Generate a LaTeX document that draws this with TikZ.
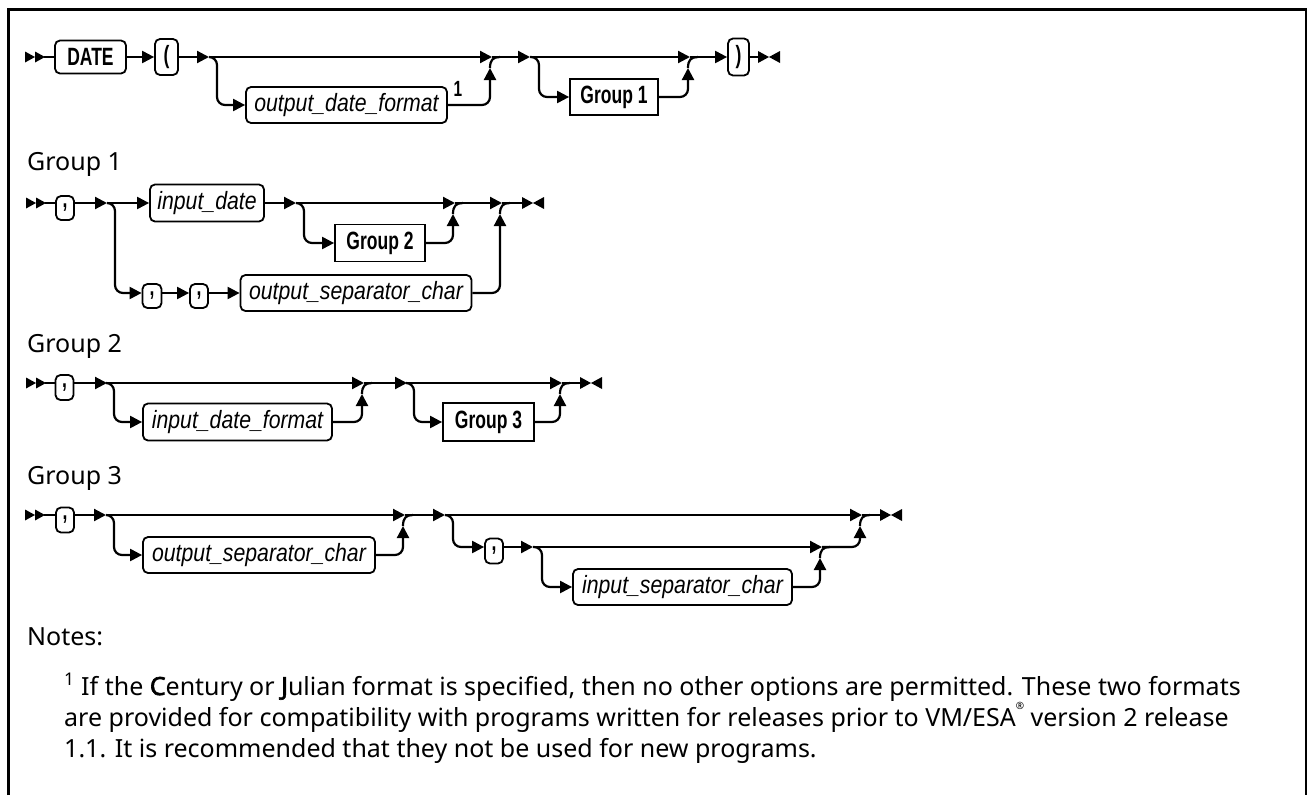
\documentclass[tikz,border=0pt]{standalone}
\usepackage{fontspec}
\setmainfont{Noto Sans}[AutoFakeBold=2.5]
\newfontfamily\railfont[FakeStretch=0.70]{Liberation Sans}
\newfontfamily\railitfont[FakeStretch=0.85]{Liberation Sans}
\usetikzlibrary{arrows.meta}
\tikzset{
  rail/.style={line width=2.2pt},
  arw/.style={-{Triangle[length=12pt,width=12pt]}},
  kbox/.style={draw, line width=1.8pt, rounded corners=5pt, inner sep=0pt,
    font=\railfont\bfseries\fontsize{25}{25}\selectfont},
  vbox/.style={draw, line width=1.8pt, rounded corners=5pt, inner sep=0pt,
    font=\railitfont\itshape\fontsize{25}{25}\selectfont},
  gbox/.style={draw, line width=1.8pt, inner sep=0pt,
    font=\railfont\bfseries\fontsize{25}{25}\selectfont},
  lbl/.style={anchor=base west, inner sep=0pt, font=\fontsize{25}{30}\selectfont},
  railstart/.pic={\fill (0,-5.5) -- (10,0) -- (0,5.5) -- cycle; \fill (10,-5.5) -- (20,0) -- (10,5.5) -- cycle;},
  railend/.pic={\fill (0,-6) -- (11,0) -- (0,6) -- cycle; \fill (22,-6) -- (11,0) -- (22,6) -- cycle;}
}
\begin{document}
\begin{tikzpicture}[x=1pt,y=-1pt]
\useasboundingbox (0,0) rectangle (1308,795);
\draw[line width=2.5pt] (8.5,795) -- (8.5,9.5) -- (1306,9.5) -- (1306,795);

% ---------- main row ----------
\pic at (25,57) {railstart};
\coordinate (r1s) at (44,57);
\node[kbox, minimum width=71pt, minimum height=33pt] (date) at (90.5,57) {DATE};
\draw[rail] (r1s) -- (date.west);
\node[kbox, minimum width=23pt, minimum height=36pt] (lp) at (166.5,57) {(};
\draw[rail,arw] (date.east) -- (lp.west);
\coordinate (b1) at (209,57);
\draw[rail,arw] (lp.east) -- (b1);
\node[vbox, minimum width=201pt, minimum height=36pt] (odf) at (346.5,105) {output\_date\_format};
\node[inner sep=0pt, font=\railfont\bfseries\fontsize{22}{22}\selectfont] (fn1) at (458,89) {1};
\coordinate (j1) at (492,57);
\draw[rail,arw] (b1) -- (j1);
\draw[rail,arw,rounded corners=8pt] (b1) -- (217,57) -- (217,105) -- (odf.west);
\draw[rail,arw,rounded corners=8pt] (odf.east) -- (490,105) -- (490,68);
\draw[rail] (490,68) .. controls (490,60) and (493,57) .. (500,57);
\coordinate (b2) at (530,57);
\draw[rail,arw] (j1) -- (b2);
\coordinate (j2) at (690,57);
\draw[rail,arw] (b2) -- (j2);
\node[gbox, minimum width=88pt, minimum height=36pt] (g1) at (614,97) {Group 1};
\draw[rail,arw,rounded corners=8pt] (b2) -- (539,57) -- (539,97) -- (g1.west);
\draw[rail,arw,rounded corners=8pt] (g1.east) -- (688,97) -- (688,68);
\draw[rail] (688,68) .. controls (688,60) and (691,57) .. (698,57);
\node[kbox, minimum width=21pt, minimum height=37pt] (rp) at (738.5,57) {)};
\draw[rail,arw] (j2) -- (rp.west);
\coordinate (e1) at (758,57);
\draw[rail] (rp.east) -- (e1);
\pic at (758,57) {railend};

% ---------- Group 1 ----------
\node[lbl] (lg1) at (27,170) {Group 1};
\pic at (26,203) {railstart};
\coordinate (r2s) at (45,203);
\node[kbox, minimum width=18pt, minimum height=24pt] (c1) at (65,208) {,};
\draw[rail] (r2s) -- (r2s -| c1.west);
\coordinate (g1b1) at (107,203);
\draw[rail,arw] (r2s -| c1.east) -- (g1b1);
\node[vbox, minimum width=114pt, minimum height=37pt] (idate) at (207,203) {input\_date};
\draw[rail,arw] (g1b1) -- (idate.west);
\coordinate (g1b2) at (296,203);
\draw[rail,arw] (idate.east) -- (g1b2);
\node[gbox, minimum width=90pt, minimum height=37pt] (g2) at (380,243) {Group 2};
\draw[rail,arw,rounded corners=8pt] (g1b2) -- (304,203) -- (304,243) -- (g2.west);
\coordinate (g1j1) at (455,203);
\draw[rail,arw] (g1b2) -- (g1j1);
\draw[rail,arw,rounded corners=8pt] (g2.east) -- (453,243) -- (453,214);
\draw[rail] (453,214) .. controls (453,206) and (456,203) .. (463,203);
\coordinate (g1j2) at (502,203);
\draw[rail,arw] (g1j1) -- (g1j2);
\coordinate (g1l) at (115,293);
\node[kbox, minimum width=19pt, minimum height=24pt] (c2) at (152,296) {,};
\node[kbox, minimum width=18pt, minimum height=24pt] (c3) at (199,296) {,};
\draw[rail,arw,rounded corners=8pt] (g1b1) -- (115,203) -- (g1l) -- (g1l -| c2.west);
\draw[rail,arw] (g1l -| c2.east) -- (g1l -| c3.west);
\node[vbox, minimum width=231pt, minimum height=36pt] (osc1) at (356,293) {output\_separator\_char};
\draw[rail,arw] (g1l -| c3.east) -- (osc1.west);
\draw[rail,arw,rounded corners=8pt] (osc1.east) -- (500,293) -- (500,214);
\draw[rail] (500,214) .. controls (500,206) and (503,203) .. (510,203);
\coordinate (g1e) at (522,203);
\draw[rail] (g1j2) -- (g1e);
\pic at (522,203) {railend};

% ---------- Group 2 ----------
\node[lbl] (lg2) at (27,352) {Group 2};
\pic at (26,383) {railstart};
\coordinate (r3s) at (45,383);
\node[kbox, minimum width=18pt, minimum height=25pt] (c4) at (64.5,387.5) {,};
\draw[rail] (r3s) -- (r3s -| c4.west);
\coordinate (g2b1) at (107,383);
\draw[rail,arw] (r3s -| c4.east) -- (g2b1);
\coordinate (g2j1) at (364,383);
\draw[rail,arw] (g2b1) -- (g2j1);
\node[vbox, minimum width=189pt, minimum height=37pt] (idf) at (237.5,422) {input\_date\_format};
\draw[rail,arw,rounded corners=8pt] (g2b1) -- (114,383) -- (114,422) -- (idf.west);
\draw[rail,arw,rounded corners=8pt] (idf.east) -- (362,422) -- (362,394);
\draw[rail] (362,394) .. controls (362,386) and (365,383) .. (372,383);
\coordinate (g2b2) at (407,383);
\draw[rail,arw] (g2j1) -- (g2b2);
\node[gbox, minimum width=91pt, minimum height=38pt] (g3) at (488.5,422) {Group 3};
\draw[rail,arw,rounded corners=8pt] (g2b2) -- (414,383) -- (414,422) -- (g3.west);
\coordinate (g2j2) at (562,383);
\draw[rail,arw] (g2b2) -- (g2j2);
\draw[rail,arw,rounded corners=8pt] (g3.east) -- (560,422) -- (560,394);
\draw[rail] (560,394) .. controls (560,386) and (563,383) .. (570,383);
\coordinate (g2e) at (580,383);
\draw[rail] (g2j2) -- (g2e);
\pic at (580,383) {railend};

% ---------- Group 3 ----------
\node[lbl] (lg3) at (27,484) {Group 3};
\pic at (25,515) {railstart};
\coordinate (r4s) at (44,515);
\node[kbox, minimum width=18pt, minimum height=25pt] (c5) at (65,520) {,};
\draw[rail] (r4s) -- (r4s -| c5.west);
\coordinate (g3b1) at (106,515);
\draw[rail,arw] (r4s -| c5.east) -- (g3b1);
\coordinate (g3j1) at (405,515);
\draw[rail,arw] (g3b1) -- (g3j1);
\node[vbox, minimum width=232pt, minimum height=36pt] (osc2) at (259,555) {output\_separator\_char};
\draw[rail,arw,rounded corners=8pt] (g3b1) -- (114,515) -- (114,555) -- (osc2.west);
\draw[rail,arw,rounded corners=8pt] (osc2.east) -- (403,555) -- (403,526);
\draw[rail] (403,526) .. controls (403,518) and (406,515) .. (413,515);
\coordinate (g3b2) at (445,515);
\draw[rail,arw] (g3j1) -- (g3b2);
\coordinate (g3j2) at (862,515);
\draw[rail,arw] (g3b2) -- (g3j2);
\coordinate (g3l) at (453,547);
\node[kbox, minimum width=18pt, minimum height=25pt] (c6) at (494,551) {,};
\draw[rail,arw,rounded corners=8pt] (g3b2) -- (453,515) -- (g3l) -- (g3l -| c6.west);
\coordinate (g3b3) at (533,547);
\draw[rail,arw] (g3l -| c6.east) -- (g3b3);
\coordinate (g3j3) at (822,547);
\draw[rail,arw] (g3b3) -- (g3j3);
\node[vbox, minimum width=219pt, minimum height=36pt] (isc) at (682.5,587) {input\_separator\_char};
\draw[rail,arw,rounded corners=8pt] (g3b3) -- (542,547) -- (542,587) -- (isc.west);
\draw[rail,arw,rounded corners=8pt] (isc.east) -- (820,587) -- (820,558);
\draw[rail] (820,558) .. controls (820,550) and (823,547) .. (830,547);
\draw[rail,arw,rounded corners=8pt] (g3j3) -- (860,547) -- (860,526);
\draw[rail] (860,526) .. controls (860,518) and (863,515) .. (870,515);
\coordinate (g3e) at (880,515);
\draw[rail] (g3j2) -- (g3e);
\pic at (880,515) {railend};

% ---------- Notes ----------
\node[lbl] (ln) at (27,645) {Notes:};
\node[lbl] (n1) at (64,695) {\textsuperscript{1} If the \textbf{C}entury or \textbf{J}ulian format is specified, then no other options are permitted. These two formats};
\node[lbl] (n2) at (64,726) {are provided for compatibility with programs written for releases prior to VM/ESA\raisebox{1.25ex}{\fontsize{10}{10}\selectfont ®} version 2 release};
\node[lbl] (n3) at (64,757) {1.1. It is recommended that they not be used for new programs.};
\end{tikzpicture}
\end{document}
